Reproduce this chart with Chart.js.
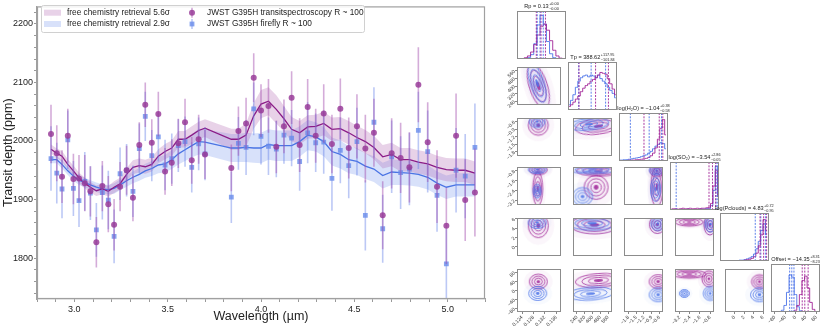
<!DOCTYPE html>
<html><head><meta charset="utf-8">
<script src="https://cdn.jsdelivr.net/npm/chart.js@4/dist/chart.umd.min.js"></script>
<style>
html,body{margin:0;padding:0;background:#fff;width:830px;height:326px;overflow:hidden;position:relative;}
canvas{position:absolute;}
</style></head><body>
<canvas id="spec" width="490" height="326" style="left:0;top:0"></canvas>
<script>
// ---------------- spectrum data ----------------
const wavelength = [2.875,2.906,2.934,2.965,2.995,3.025,3.056,3.086,3.118,3.150,3.182,3.213,3.245,3.280,3.314,3.348,3.380,3.415,3.450,3.486,3.522,3.557,3.593,3.629,3.666,3.700,3.841,3.879,3.920,3.961,4.000,4.040,4.082,4.123,4.164,4.207,4.250,4.293,4.336,4.380,4.425,4.470,4.514,4.559,4.605,4.652,4.700,4.748,4.795,4.843,4.893,4.943,4.993,5.045,5.094,5.146];
const depthTS = [2012,1979,1939,2009,1935,1936,1928,1914,1827,1923,1892,1857,1922,1950,1903,1993,2062,1997,2046,1948,1963,1996,2032,1967,2003,1977,1954,2017,2030,2108,2052,2060,1990,2025,2074,1993,2058,2009,2047,1995,2055,1988,2025,1987,2014,1873,1979,1971,1955,2096,1998,1922,1855,2009,1899,1912];
const errTS = [50,48,45,46,43,40,48,43,43,43,48,44,42,42,40,39,38,40,38,40,40,42,40,40,42,42,40,42,44,42,45,46,45,46,45,46,48,46,50,50,52,52,55,58,58,58,60,60,60,64,68,62,65,72,70,75];
const depthFF = [1970,1945,1918,2002,1919,1898,1931,1911,1848,1912,1899,1837,1944,1950,1914,1987,2042,1975,2007,1959,1970,1992,1999,1955,1995,1978,1904,1996,1989,2055,2008,1991,1986,2010,2005,1965,2014,1997,1998,1936,1984,1958,1999,1873,2032,1850,1973,1946,1952,2018,1982,1907,1790,1950,1940,1989];
const errFF = [55,52,50,50,47,45,50,46,46,46,50,46,45,45,44,43,42,44,42,43,43,45,43,43,45,45,44,45,47,45,48,49,48,49,48,50,52,50,54,55,56,56,58,60,60,58,62,62,62,66,70,62,60,72,72,75];
const modelTS = [1986,1979,1974,1960,1949,1937,1928,1921,1915,1918,1914,1921,1927,1943,1955,1958,1956,1960,1974,1982,1988,2003,2003,2010,2018,2022,2003,2003,2010,2043,2063,2068,2054,2038,2020,2014,2024,2025,2030,2020,2021,2014,2006,1999,1989,1973,1977,1968,1968,1964,1961,1955,1951,1950,1950,1945];
const bandTS = [8,8,9,9,9,9,9,9,9,9,9,10,10,11,12,12,12,12,12,13,13,14,14,15,15,15,18,18,20,22,24,24,24,22,21,20,20,20,20,20,20,20,20,20,20,20,20,20,20,20,20,20,20,20,20,20];
const modelFF = [1968,1968,1960,1949,1940,1933,1929,1925,1921,1918,1917,1919,1925,1932,1938,1943,1949,1953,1959,1961,1968,1978,1985,1992,1999,1998,1988,1988,1989,1988,1988,1994,1992,1992,1992,1999,2010,2007,1999,1982,1977,1968,1965,1957,1952,1941,1947,1946,1945,1943,1938,1928,1921,1925,1925,1925];
const bandFF = [6,6,7,7,8,8,8,8,8,8,8,9,9,10,10,11,12,13,14,15,16,18,19,20,22,22,24,24,25,25,26,26,26,26,26,26,26,25,25,24,24,23,23,22,22,22,22,21,21,21,21,20,20,20,20,20];
const yTickValues = [1740,1760,1780,1800,1820,1840,1860,1880,1900,1920,1940,1960,1980,2000,2020,2040,2060,2080,2100,2120,2140,2160,2180,2200,2220];
const xTickValues = [2.8,2.9,3.0,3.1,3.2,3.3,3.4,3.5,3.6,3.7,3.8,3.9,4.0,4.1,4.2,4.3,4.4,4.5,4.6,4.7,4.8,4.9,5.0,5.1,5.2];
const legendLabels = ['free chemistry retrieval 5.6\u03c3','free chemistry retrieval 2.9\u03c3','JWST G395H transitspectroscopy R ~ 100','JWST G395H firefly R ~ 100'];

// ---------------- corner-plot data ----------------
const ranges = [[0.1222,0.1377],[200,600],[-1.97,-0.46],[-3.58,-0.49],[-2,6.2],[-95,95]];
const tickVals = [[0.124,0.128,0.132,0.136],[240,320,400,480,560],[-1.8,-1.5,-1.2,-0.9,-0.6],[-3.2,-2.4,-1.6,-0.8],[0,2,4,6],[-80,-40,0,40,80]];
const titles = [['Rp = 0.13','+0.00','\u22120.00'],['Tp = 388.62','+117.95','\u2212101.84'],['log(H\u2082O) = \u22121.04','+0.38','\u22120.58'],['log(SO\u2082) = \u22123.54','+2.86','\u22120.05'],['log(Pclouds) = 4.83','+0.72','\u22120.95'],['Offset = \u221214.35','+8.31','\u22128.23']];
const binsRp = [0.123,0.124,0.125,0.126,0.127,0.128,0.129,0.130,0.131,0.132,0.133,0.134,0.135,0.136,0.137];
const histRpTS = [0,0.01,0.03,0.07,0.16,0.33,0.55,0.75,0.8,0.66,0.42,0.2,0.07,0.02,0];
const histRpFF = [0,0,0.01,0.03,0.1,0.35,0.78,1.0,0.8,0.4,0.12,0.03,0.01,0,0];
const binsTp = [210,230,250,270,290,310,330,350,370,390,410,430,450,470,490,510,530,550,570,590];
const histTpTS = [0.08,0.12,0.18,0.25,0.32,0.42,0.5,0.56,0.6,0.66,0.7,0.74,0.8,0.86,0.84,0.82,0.72,0.6,0.48,0.35];
const histTpFF = [0.12,0.22,0.35,0.52,0.66,0.74,0.78,0.8,0.76,0.8,0.78,0.74,0.8,0.72,0.66,0.6,0.52,0.45,0.38,0.28];
const binsH2O = [-1.95,-1.875,-1.8,-1.725,-1.65,-1.575,-1.5,-1.425,-1.35,-1.275,-1.2,-1.125,-1.05,-0.975,-0.9,-0.825,-0.75,-0.675,-0.6,-0.525];
const histH2OTS = [0.01,0.01,0.01,0.01,0.02,0.02,0.02,0.03,0.03,0.04,0.05,0.06,0.08,0.12,0.18,0.3,0.5,0.75,0.95,0.6];
const histH2OFF = [0.02,0.02,0.03,0.03,0.04,0.05,0.06,0.07,0.08,0.1,0.12,0.14,0.18,0.22,0.28,0.34,0.38,0.42,0.4,0.28];
const binsSO2 = [-3.5,-3.35,-3.2,-3.05,-2.9,-2.75,-2.6,-2.45,-2.3,-2.15,-2.0,-1.85,-1.7,-1.55,-1.4,-1.25,-1.1,-0.95,-0.8,-0.65,-0.5];
const histSO2TS = [0.02,0.03,0.03,0.02,0.03,0.04,0.03,0.03,0.04,0.03,0.03,0.04,0.03,0.04,0.04,0.05,0.06,0.15,0.55,0.9,0.3];
const histSO2FF = [0.01,0.01,0.01,0.01,0.01,0.01,0.01,0.02,0.01,0.01,0.01,0.01,0.02,0.02,0.02,0.03,0.03,0.1,0.45,1.0,0.35];
const binsPc = [-1.8,-1.4,-1.0,-0.6,-0.2,0.2,0.6,1.0,1.4,1.8,2.2,2.6,3.0,3.4,3.8,4.2,4.6,5.0,5.4,5.8];
const histPcTS = [0,0,0,0,0,0,0,0,0.01,0.01,0.02,0.03,0.04,0.06,0.1,0.18,0.35,0.6,0.95,0.7];
const histPcFF = [0,0,0,0,0,0,0.01,0.01,0.02,0.02,0.03,0.05,0.07,0.1,0.16,0.28,0.45,0.7,0.85,0.6];
const binsOff = [-90,-80,-70,-60,-50,-40,-30,-20,-10,0,10,20,30,40,50,60,70,80,90];
const histOffTS = [0,0,0,0,0,0,0,0,0.01,0.04,0.15,0.4,0.72,0.82,0.55,0.22,0.06,0.01,0];
const histOffFF = [0,0,0,0.01,0.04,0.15,0.45,0.85,0.8,0.4,0.12,0.03,0.01,0,0,0,0,0,0];
const quantTS = [[0.1283,0.1298,0.1312],[290,425,530],[-1.2,-0.73,-0.62],[-1.12,-0.9,-0.7],[4.7,5.3,5.8],[26,36,49]];
const quantFF = [[0.1286,0.1295,0.1305],[287,389,507],[-1.62,-1.04,-0.66],[-3.19,-0.68,-0.6],[3.9,4.83,5.6],[-22.6,-14.35,-6]];
// [row, col, x, y] centres of the 2-D posterior blobs
const blobsTS = [[1,0,0.1297,400],[2,0,0.1297,-0.75],[2,1,461,-0.78],[3,0,0.1297,-0.72],[3,0,0.1295,-2.26],[3,1,461,-0.82],[3,1,437,-2.14],[3,2,-0.7,-0.8],[3,2,-0.7,-2.1],[4,0,0.1297,4.55],[4,1,420,4.73],[4,2,-0.68,4.8],[4,3,-0.82,4.7],[4,3,-2.45,5.3],[5,0,0.1297,39],[5,1,461,44],[5,2,-0.65,39],[5,3,-0.9,52],[5,3,-2.45,72],[5,4,5.25,39]];
const blobsFF = [[1,0,0.1293,430],[2,0,0.1293,-0.6],[2,1,363,-0.71],[3,0,0.1293,-0.7],[3,0,0.1293,-2.45],[3,1,396,-0.7],[3,1,298,-2.89],[3,2,-0.72,-0.75],[3,2,-0.75,-2.3],[4,0,0.1293,5.23],[4,1,396,5.06],[4,2,-0.66,5.0],[4,3,-0.75,4.9],[5,0,0.1295,-13],[5,1,380,-14],[5,2,-0.65,-19],[5,3,-0.79,-13],[5,3,-2.84,-13],[5,4,5.25,-19]];

// ---------------- styles ----------------
const FONT = "'Liberation Sans', Arial, Helvetica, sans-serif";
Chart.defaults.font.family = FONT;
Chart.defaults.animation = false;
const C_TS_PT = 'rgba(150,55,150,0.82)', C_TS_ERR = 'rgba(160,70,170,0.45)', C_TS_LINE = '#8b1c87', C_TS_BAND = 'rgba(165,80,165,0.26)';
const C_FF_PT = 'rgba(105,140,235,0.8)', C_FF_ERR = 'rgba(95,125,230,0.42)', C_FF_LINE = '#4a74e4', C_FF_BAND = 'rgba(105,140,235,0.26)';
const blobStyleTS = [[18,46,-18],[20,20,0],[46,16,-8],[18,10,0],[10,34,0],[44,10,0],[24,24,0],[14,12,0],[12,40,0],[20,24,0],[48,18,0],[16,18,0],[12,20,0],[28,8,0],[18,15,0],[46,14,-4],[18,14,0],[14,16,0],[34,8,0],[16,14,0]];
const blobStyleFF = [[14,40,-18],[16,12,0],[40,12,-6],[18,8,0],[8,14,0],[48,8,0],[20,18,0],[14,10,0],[10,24,0],[18,12,0],[48,14,0],[14,14,0],[12,16,0],[18,14,0],[46,13,-4],[18,14,0],[14,14,0],[10,8,0],[18,14,0]];

// ---------------- spectrum chart ----------------
const pts = ys => wavelength.map((w,k)=>({x:w,y:ys[k]}));
const shift = (a,b,s) => a.map((v,k)=>v+s*b[k]);

const errorBars = {
  id:'errorBars',
  beforeDatasetDraw(chart, args) {
    const ds = chart.data.datasets[args.index];
    if (!ds.errors) return;
    const {ctx, chartArea:a, scales:{x,y}} = chart;
    ctx.save();
    ctx.beginPath(); ctx.rect(a.left,a.top,a.right-a.left,a.bottom-a.top); ctx.clip();
    ctx.strokeStyle = ds.errColor; ctx.lineWidth = 1.6;
    ds.data.forEach((p,k)=>{
      const px = x.getPixelForValue(p.x);
      ctx.beginPath();
      ctx.moveTo(px, y.getPixelForValue(p.y - ds.errors[k]));
      ctx.lineTo(px, y.getPixelForValue(p.y + ds.errors[k]));
      ctx.stroke();
    });
    ctx.restore();
  }
};
const frame = {
  id:'frame',
  afterDraw(chart, args, o) {
    const {ctx, chartArea:a} = chart;
    ctx.save(); ctx.strokeStyle = o.color || '#999'; ctx.lineWidth = o.width || 1;
    ctx.strokeRect(a.left+0.5, a.top+0.5, a.right-a.left-1, a.bottom-a.top-1);
    ctx.restore();
  }
};
const specLegend = {
  id:'specLegend',
  afterDraw(chart) {
    const ctx = chart.ctx;
    ctx.save();
    ctx.fillStyle = 'rgba(255,255,255,0.85)'; ctx.strokeStyle = '#d0d0d0'; ctx.lineWidth = 1;
    ctx.beginPath(); ctx.roundRect(41.5, 5.5, 323, 27, 2); ctx.fill(); ctx.stroke();
    const rows = [12.7, 24];
    ctx.fillStyle = C_TS_BAND; ctx.fillRect(44, rows[0]-3, 17, 6);
    ctx.fillStyle = C_FF_BAND; ctx.fillRect(44, rows[1]-3, 17, 6);
    ctx.strokeStyle = C_TS_ERR; ctx.lineWidth = 1.6;
    ctx.beginPath(); ctx.moveTo(192, rows[0]-5); ctx.lineTo(192, rows[0]+5); ctx.stroke();
    ctx.strokeStyle = C_FF_ERR;
    ctx.beginPath(); ctx.moveTo(192, rows[1]-5); ctx.lineTo(192, rows[1]+5); ctx.stroke();
    ctx.fillStyle = C_TS_PT; ctx.beginPath(); ctx.arc(192, rows[0], 3, 0, Math.PI*2); ctx.fill();
    ctx.fillStyle = C_FF_PT; ctx.fillRect(192-2.4, rows[1]-2.4, 4.8, 4.8);
    ctx.fillStyle = '#222'; ctx.font = '8.3px ' + FONT; ctx.textBaseline = 'middle';
    ctx.fillText(legendLabels[0], 67, rows[0]);
    ctx.fillText(legendLabels[1], 67, rows[1]);
    ctx.fillText(legendLabels[2], 207, rows[0]);
    ctx.fillText(legendLabels[3], 207, rows[1]);
    ctx.restore();
  }
};

new Chart(document.getElementById('spec'), {
  type:'scatter',
  data:{datasets:[
    {data:pts(depthTS), errors:errTS, errColor:C_TS_ERR, pointStyle:'circle', pointRadius:3, backgroundColor:C_TS_PT, borderWidth:0, order:1},
    {data:pts(depthFF), errors:errFF, errColor:C_FF_ERR, pointStyle:'rect', pointRadius:3.4, backgroundColor:C_FF_PT, borderWidth:0, order:2},
    {type:'line', data:pts(modelTS), borderColor:C_TS_LINE, borderWidth:1.3, pointRadius:0, fill:false, order:3},
    {type:'line', data:pts(modelFF), borderColor:C_FF_LINE, borderWidth:1.3, pointRadius:0, fill:false, order:4},
    {type:'line', data:pts(shift(modelTS,bandTS,1)), borderWidth:0, pointRadius:0, fill:'+1', backgroundColor:C_TS_BAND, order:5},
    {type:'line', data:pts(shift(modelTS,bandTS,-1)), borderWidth:0, pointRadius:0, fill:false, order:6},
    {type:'line', data:pts(shift(modelFF,bandFF,1)), borderWidth:0, pointRadius:0, fill:'+1', backgroundColor:C_FF_BAND, order:7},
    {type:'line', data:pts(shift(modelFF,bandFF,-1)), borderWidth:0, pointRadius:0, fill:false, order:8}
  ]},
  options:{
    responsive:false, devicePixelRatio:1,
    layout:{padding:{top:2,right:5,left:0,bottom:0}},
    plugins:{legend:{display:false}, tooltip:{enabled:false}, frame:{color:'#a0a0a0', width:1.2}},
    scales:{
      x:{type:'linear', min:2.8, max:5.2, afterFit:s=>{s.height=27;},
        afterBuildTicks:s=>{s.ticks = xTickValues.map(v=>({value:v}));},
        ticks:{autoSkip:false, minRotation:0, maxRotation:0, font:{size:9}, color:'#222', padding:2,
          callback:v=>{const r=Math.round(v*10); return r%5===0 ? (r/10).toFixed(1) : '';}},
        grid:{drawOnChartArea:false, tickLength:3, color:'#999'}, border:{color:'#a0a0a0', width:1.2},
        title:{display:true, text:'Wavelength (\u00b5m)', font:{size:12.5}, color:'#222', padding:{top:0,bottom:2}}},
      y:{min:1730, max:2230, afterFit:s=>{s.width=37;},
        afterBuildTicks:s=>{s.ticks = yTickValues.map(v=>({value:v}));},
        ticks:{autoSkip:false, font:{size:9}, color:'#222', padding:1,
          callback:v=> (Math.round(v)%100===0 ? String(Math.round(v)) : '')},
        grid:{drawOnChartArea:false, tickLength:3, color:'#999'}, border:{color:'#a0a0a0', width:1.2},
        title:{display:true, text:'Transit depth (ppm)', font:{size:12.5}, color:'#222', padding:{top:1,bottom:0}}}
    }
  },
  plugins:[errorBars, frame, specLegend]
});

// ---------------- corner plot ----------------
const colX = [517,568,619,670,720,771], rowY = [11,62,113,162,213,264], PW = 49, PH = 48;
const CTS = 'rgb(160,35,150)', CFF = 'rgb(75,115,232)';
const hist = [[binsRp,histRpTS,histRpFF],[binsTp,histTpTS,histTpFF],[binsH2O,histH2OTS,histH2OFF],[binsSO2,histSO2TS,histSO2FF],[binsPc,histPcTS,histPcFF],[binsOff,histOffTS,histOffFF]];
const fmtTick = (p,v) => {
  const s = p===0 ? v.toFixed(3) : (p===2||p===3) ? v.toFixed(1) : String(Math.round(v));
  return s.replace('-', '\u2212');
};
const spriteCache = {};
function blobSprite(w, h, rgb) {
  const key = w+'_'+h+'_'+rgb;
  if (spriteCache[key]) return spriteCache[key];
  const S = Math.ceil(Math.max(w,h)*1.7)+4;
  const c = document.createElement('canvas'); c.width = S; c.height = S;
  const g = c.getContext('2d'); const cx = S/2, cy = S/2;
  const col = a => 'rgba(' + rgb + ',' + a + ')';
  g.fillStyle = col(0.04); g.beginPath(); g.ellipse(cx,cy,w*0.8,h*0.8,0,0,Math.PI*2); g.fill();
  g.fillStyle = col(0.05); g.beginPath(); g.ellipse(cx,cy,w*0.55,h*0.55,0,0,Math.PI*2); g.fill();
  g.strokeStyle = col(0.95); g.lineWidth = 0.8;
  [0.5,0.36,0.22].forEach(f=>{g.beginPath(); g.ellipse(cx,cy,w*f,h*f,0,0,Math.PI*2); g.stroke();});
  g.fillStyle = col(0.85); g.beginPath(); g.ellipse(cx,cy,w*0.1,h*0.1,0,0,Math.PI*2); g.fill();
  spriteCache[key] = c; return c;
}
const panelFrame = {
  id:'panelFrame',
  afterDraw(chart) {
    const {ctx, chartArea:a} = chart;
    ctx.save(); ctx.strokeStyle = '#8c8c8c'; ctx.lineWidth = 1;
    ctx.strokeRect(a.left+0.5, a.top+0.5, a.right-a.left-1, a.bottom-a.top-1); ctx.restore();
  }
};
const quantLines = {
  id:'quantLines',
  afterDatasetsDraw(chart, args, o) {
    if (!o.ts) return;
    const {ctx, chartArea:a, scales:{x}} = chart;
    ctx.save(); ctx.setLineDash([2,1.3]); ctx.lineWidth = 0.9;
    [[o.ff,CFF],[o.ts,CTS]].forEach(([qs,c])=>{
      ctx.strokeStyle = c;
      qs.forEach(q=>{const px=x.getPixelForValue(q); ctx.beginPath(); ctx.moveTo(px,a.top); ctx.lineTo(px,a.bottom); ctx.stroke();});
    });
    ctx.restore();
  }
};
const cornerTitle = {
  id:'cornerTitle',
  afterDraw(chart, args, o) {
    if (!o.parts) return;
    const {ctx, chartArea:a} = chart;
    const [main, sup, sub] = o.parts;
    ctx.save(); ctx.fillStyle = '#222'; ctx.textBaseline = 'alphabetic';
    ctx.font = '5.6px ' + FONT; const wm = ctx.measureText(main).width;
    ctx.font = '3.8px ' + FONT; const ws = Math.max(ctx.measureText(sup).width, ctx.measureText(sub).width);
    const x0 = (a.left+a.right)/2 - (wm+ws+0.5)/2, yb = a.top - 2.6;
    ctx.font = '5.6px ' + FONT; ctx.fillText(main, x0, yb);
    ctx.font = '3.8px ' + FONT; ctx.fillText(sup, x0+wm+0.5, yb-3.2); ctx.fillText(sub, x0+wm+0.5, yb+1.2);
    ctx.restore();
  }
};

function axisCfg(p, show, horiz, size) {
  return {
    type:'linear', min:ranges[p][0], max:ranges[p][1], display:show,
    afterFit: s => { if (horiz) s.height = size; else s.width = size; },
    afterBuildTicks: s => { s.ticks = tickVals[p].map(v=>({value:v})); },
    ticks:{autoSkip:false, minRotation:45, maxRotation:45, font:{size:5}, color:'#333', padding:0.5,
      callback:(v)=>fmtTick(p,v)},
    grid:{drawOnChartArea:false, tickLength:2, color:'#888'}, border:{display:false}
  };
}

function makePanel(i, j) {
  const diag = i===j, showY = j===0 && i>0, showX = i===5;
  const axW = showY ? 24 : 0, axH = showX ? 19 : 0, tPad = diag ? 11 : 0, sPad = diag ? 24 : 0;
  const cv = document.createElement('canvas');
  cv.width = PW + axW + 2*sPad; cv.height = PH + axH + tPad;
  cv.style.left = (colX[j]-axW-sPad)+'px'; cv.style.top = (rowY[i]-tPad)+'px';
  document.body.appendChild(cv);
  let datasets, yScale;
  if (diag) {
    const [bins, hTS, hFF] = hist[i];
    const mk = h => bins.map((b,k)=>({x:b,y:h[k]}));
    datasets = [
      {type:'line', data:mk(hTS), stepped:'middle', borderColor:CTS, borderWidth:0.9, pointRadius:0, fill:false},
      {type:'line', data:mk(hFF), stepped:'middle', borderColor:CFF, borderWidth:0.9, pointRadius:0, fill:false}
    ];
    yScale = {min:0, max:1.1, display:false};
  } else {
    const mk = (blobs, styles, rgb) => {
      const sel = blobs.map((b,k)=>[b,styles[k]]).filter(([b])=>b[0]===i && b[1]===j);
      return {data:sel.map(([b])=>({x:b[2],y:b[3]})),
        pointStyle:sel.map(([,s])=>blobSprite(s[0],s[1],rgb)),
        pointRotation:sel.map(([,s])=>s[2]), pointRadius:1, clip:0};
    };
    datasets = [mk(blobsFF, blobStyleFF, '75,115,232'), mk(blobsTS, blobStyleTS, '160,35,150')];
    yScale = axisCfg(i, showY, false, axW);
  }
  new Chart(cv, {
    type:'scatter',
    data:{datasets},
    options:{
      responsive:false, devicePixelRatio:1, events:[],
      layout:{padding:{top:tPad, left:sPad, right:sPad, bottom:0}},
      plugins:{legend:{display:false}, tooltip:{enabled:false},
        quantLines: diag ? {ts:quantTS[i], ff:quantFF[i]} : {},
        cornerTitle: diag ? {parts:titles[i]} : {}},
      scales:{x:axisCfg(j, showX, true, axH), y:yScale}
    },
    plugins:[panelFrame, quantLines, cornerTitle]
  });
}
for (let i=0;i<6;i++) for (let j=0;j<=i;j++) makePanel(i,j);
</script>
</body></html>
